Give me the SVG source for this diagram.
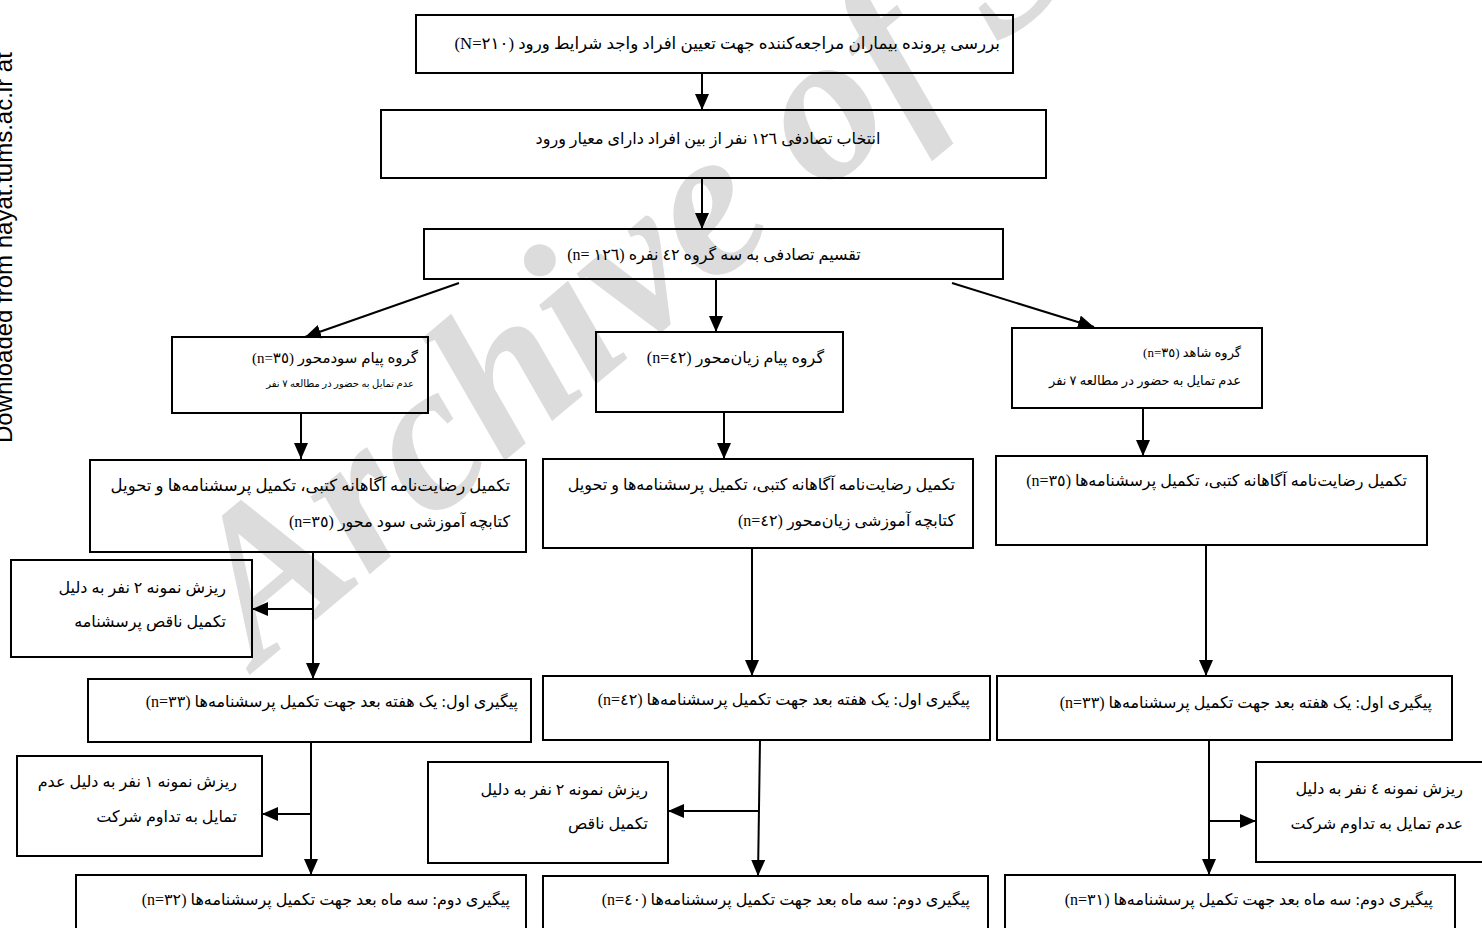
<svg xmlns="http://www.w3.org/2000/svg" width="1482" height="928" viewBox="0 0 1482 928">
<defs>
<style>
.box{fill:none;stroke:#000;stroke-width:2}
.ln{fill:none;stroke:#000;stroke-width:2}
.t{font-family:"Liberation Serif","DejaVu Sans",serif;font-size:16px;fill:#000;direction:rtl;unicode-bidi:embed;text-anchor:start}
.c{text-anchor:middle}
.m{font-size:15px}
.s{font-size:10px}
.g{font-size:13px}
.wm{font-family:"Liberation Serif",serif;font-style:italic;font-weight:bold;font-size:212px;fill:#dcdcdc}
.side{font-family:"Liberation Sans",Arial,sans-serif;font-size:24px;fill:#000}
</style>
<marker id="ah" viewBox="0 0 16 14" refX="16" refY="7" markerWidth="16" markerHeight="14" markerUnits="userSpaceOnUse" orient="auto">
<path d="M0,0 L16,7 L0,14 z" fill="#000"/>
</marker>
</defs>
<rect width="1482" height="928" fill="#fff"/>
<text class="wm" transform="translate(258,668) rotate(-40)">Archive of SID</text>
<text class="side" transform="translate(12,443) rotate(-90)">Downloaded from hayat.tums.ac.ir at</text>

<g id="connectors">
<line class="ln" x1="702" y1="73" x2="702" y2="110" marker-end="url(#ah)"/>
<line class="ln" x1="702" y1="178" x2="702" y2="229" marker-end="url(#ah)"/>
<line class="ln" x1="459" y1="283" x2="305" y2="337" marker-end="url(#ah)"/>
<line class="ln" x1="716" y1="279" x2="716" y2="332" marker-end="url(#ah)"/>
<line class="ln" x1="952" y1="283" x2="1094" y2="327" marker-end="url(#ah)"/>
<line class="ln" x1="301" y1="413" x2="301" y2="459" marker-end="url(#ah)"/>
<line class="ln" x1="724" y1="412" x2="724" y2="459" marker-end="url(#ah)"/>
<line class="ln" x1="1143" y1="408" x2="1143" y2="456" marker-end="url(#ah)"/>
<line class="ln" x1="313" y1="552" x2="313" y2="679" marker-end="url(#ah)"/>
<line class="ln" x1="313" y1="609" x2="252" y2="609" marker-end="url(#ah)"/>
<line class="ln" x1="752" y1="548" x2="752" y2="676" marker-end="url(#ah)"/>
<line class="ln" x1="1206" y1="545" x2="1206" y2="676" marker-end="url(#ah)"/>
<line class="ln" x1="311" y1="742" x2="311" y2="875" marker-end="url(#ah)"/>
<line class="ln" x1="311" y1="814" x2="262" y2="814" marker-end="url(#ah)"/>
<line class="ln" x1="760" y1="740" x2="758" y2="876" marker-end="url(#ah)"/>
<line class="ln" x1="759" y1="811" x2="668" y2="811" marker-end="url(#ah)"/>
<line class="ln" x1="1209" y1="740" x2="1209" y2="875" marker-end="url(#ah)"/>
<line class="ln" x1="1209" y1="821" x2="1256" y2="821" marker-end="url(#ah)"/>
</g>

<g id="n1"><rect class="box" x="416" y="15" width="597" height="58"/>
<text class="t" x="1000" y="49" style="font-size:16.7px">بررسی پرونده بیماران مراجعه&#x200C;کننده جهت تعیین افراد واجد شرایط ورود (٢١٠=N)</text></g>
<g id="n2"><rect class="box" x="381" y="110" width="665" height="68"/>
<text class="t c" x="708" y="144">انتخاب تصادفی ١٢٦ نفر از بین افراد دارای معیار ورود</text></g>
<g id="n3"><rect class="box" x="424" y="229" width="579" height="50"/>
<text class="t c" x="714" y="260">تقسیم تصادفی به سه گروه ٤٢ نفره (١٢٦ =n)</text></g>
<g id="n4"><rect class="box" x="172" y="337" width="256" height="76"/>
<text class="t m" x="418" y="363">گروه پیام سودمحور (٣٥=n)</text>
<text class="t s" x="414" y="387">عدم تمایل به حضور در مطالعه ٧ نفر</text></g>
<g id="n5"><rect class="box" x="596" y="332" width="247" height="80"/>
<text class="t" x="824" y="363">گروه پیام زیان&#x200C;محور (٤٢=n)</text></g>
<g id="n6"><rect class="box" x="1012" y="328" width="250" height="80"/>
<text class="t g" x="1241" y="357">گروه شاهد (٣٥=n)</text>
<text class="t g" x="1241" y="385">عدم تمایل به حضور در مطالعه ٧ نفر</text></g>
<g id="n7"><rect class="box" x="90" y="460" width="436" height="92"/>
<text class="t" x="510" y="491" style="font-size:16.5px">تکمیل رضایت&#x200C;نامه آگاهانه کتبی، تکمیل پرسشنامه&#x200C;ها و تحویل</text>
<text class="t" x="510" y="527">کتابچه آموزشی سود محور (٣٥=n)</text></g>
<g id="n8"><rect class="box" x="543" y="459" width="430" height="89"/>
<text class="t" x="955" y="490">تکمیل رضایت&#x200C;نامه آگاهانه کتبی، تکمیل پرسشنامه&#x200C;ها و تحویل</text>
<text class="t" x="955" y="526">کتابچه آموزشی زیان&#x200C;محور (٤٢=n)</text></g>
<g id="n9"><rect class="box" x="996" y="456" width="431" height="89"/>
<text class="t" x="1407" y="486">تکمیل رضایت&#x200C;نامه آگاهانه کتبی، تکمیل پرسشنامه&#x200C;ها (٣٥=n)</text></g>
<g id="d1"><rect class="box" x="11" y="560" width="241" height="97"/>
<text class="t" x="226" y="593">ریزش نمونه ٢ نفر به دلیل</text>
<text class="t" x="226" y="627">تکمیل ناقص پرسشنامه</text></g>
<g id="f1a"><rect class="box" x="88" y="679" width="443" height="63"/>
<text class="t" x="518" y="707">پیگیری اول: یک هفته بعد جهت تکمیل پرسشنامه&#x200C;ها (٣٣=n)</text></g>
<g id="f1b"><rect class="box" x="543" y="676" width="447" height="64"/>
<text class="t" x="970" y="705">پیگیری اول: یک هفته بعد جهت تکمیل پرسشنامه&#x200C;ها (٤٢=n)</text></g>
<g id="f1c"><rect class="box" x="997" y="676" width="455" height="64"/>
<text class="t" x="1432" y="708">پیگیری اول: یک هفته بعد جهت تکمیل پرسشنامه&#x200C;ها (٣٣=n)</text></g>
<g id="d2"><rect class="box" x="17" y="756" width="245" height="100"/>
<text class="t" x="237" y="787">ریزش نمونه ١ نفر به دلیل عدم</text>
<text class="t" x="237" y="822">تمایل به تداوم شرکت</text></g>
<g id="d3"><rect class="box" x="428" y="762" width="240" height="101"/>
<text class="t" x="648" y="795">ریزش نمونه ٢ نفر به دلیل</text>
<text class="t" x="648" y="829">تکمیل ناقص</text></g>
<g id="d4"><rect class="box" x="1256" y="762" width="234" height="100"/>
<text class="t" x="1463" y="794">ریزش نمونه ٤ نفر به دلیل</text>
<text class="t" x="1463" y="829">عدم تمایل به تداوم شرکت</text></g>
<g id="f2a"><rect class="box" x="76" y="875" width="450" height="65"/>
<text class="t" x="510" y="905">پیگیری دوم: سه ماه بعد جهت تکمیل پرسشنامه&#x200C;ها (٣٢=n)</text></g>
<g id="f2b"><rect class="box" x="543" y="876" width="445" height="64"/>
<text class="t" x="970" y="905">پیگیری دوم: سه ماه بعد جهت تکمیل پرسشنامه&#x200C;ها (٤٠=n)</text></g>
<g id="f2c"><rect class="box" x="1005" y="875" width="450" height="65"/>
<text class="t" x="1433" y="905">پیگیری دوم: سه ماه بعد جهت تکمیل پرسشنامه&#x200C;ها (٣١=n)</text></g>
</svg>
